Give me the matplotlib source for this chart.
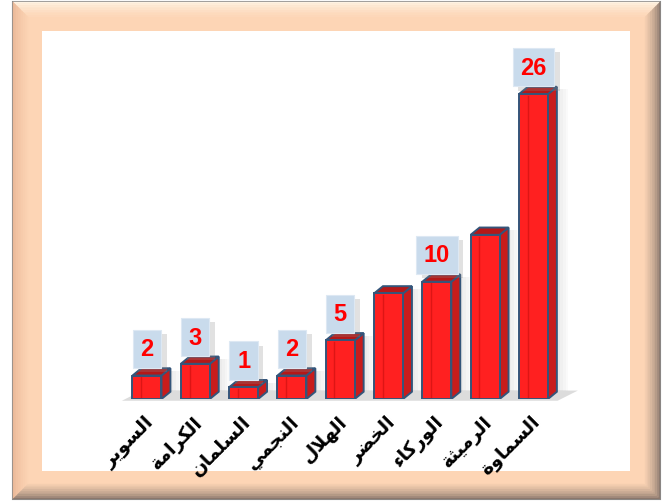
import matplotlib
matplotlib.use('Agg')
import matplotlib.pyplot as plt
import matplotlib.patheffects as pe
from matplotlib.patches import Polygon, Rectangle
from matplotlib.colors import to_rgb


# Data
towns = ['السوير', 'الكرامة', 'السلمان', 'النجمي', 'الهلال',
         'الخضر', 'الوركاء', 'الرميثة', 'السماوة']
counts = [2, 3, 1, 2, 5, 9, 10, 14, 26]
shown = [True, True, True, True, True, False, True, False, True]


# Arabic letters -> presentation forms (matplotlib does no shaping / rtl)
DUAL = {'ب': 0xFE8F, 'ت': 0xFE95, 'ث': 0xFE99, 'ج': 0xFE9D, 'ح': 0xFEA1,
        'خ': 0xFEA5, 'س': 0xFEB1, 'ش': 0xFEB5, 'ص': 0xFEB9, 'ض': 0xFEBD,
        'ط': 0xFEC1, 'ظ': 0xFEC5, 'ع': 0xFEC9, 'غ': 0xFECD, 'ف': 0xFED1,
        'ق': 0xFED5, 'ك': 0xFED9, 'ل': 0xFEDD, 'م': 0xFEE1, 'ن': 0xFEE5,
        'ه': 0xFEE9, 'ي': 0xFEF1}
RIGHT = {'ا': 0xFE8D, 'ة': 0xFE93, 'د': 0xFEA9, 'ذ': 0xFEAB, 'ر': 0xFEAD,
         'ز': 0xFEAF, 'و': 0xFEED, 'ى': 0xFEEF}
ALONE = {'ء': 0xFE80}


def shape(word):
    out = []
    prev_joins = False
    i = 0
    while i < len(word):
        c = word[i]
        if c == 'ل' and i + 1 < len(word) and word[i + 1] == 'ا':
            out.append(chr(0xFEFC if prev_joins else 0xFEFB))
            prev_joins = False
            i += 2
            continue
        nxt = word[i + 1] if i + 1 < len(word) else None
        next_can = nxt is not None and (nxt in DUAL or nxt in RIGHT)
        if c in DUAL:
            b = DUAL[c]
            if prev_joins and next_can:
                f = b + 3
            elif prev_joins:
                f = b + 1
            elif next_can:
                f = b + 2
            else:
                f = b
            prev_joins = next_can
        elif c in RIGHT:
            f = RIGHT[c] + (1 if prev_joins else 0)
            prev_joins = False
        else:
            f = ALONE.get(c, ord(c))
            prev_joins = False
        out.append(chr(f))
        i += 1
    return ''.join(reversed(out))


W, H = 670, 502
fig = plt.figure(figsize=(W / 100, H / 100), dpi=100)
fig.patch.set_facecolor('white')


def fpx(pts):
    return [(x / W, 1 - y / H) for x, y in pts]


def mix(c1, c2, t):
    a, b = to_rgb(c1), to_rgb(c2)
    return tuple(a[k] + (b[k] - a[k]) * t for k in range(3))


# frame (behind the axes)
L, T, R, B = 13, 3, 660, 500
fig.add_artist(Rectangle((L / W, 1 - B / H), (R - L) / W, (B - T) / H,
                         transform=fig.transFigure, fc='#fdd5b5',
                         ec='#8a8a8a', lw=1.5, zorder=-5))
peach = '#fdd5b5'
bw, steps = 17, 10
sides = {'top': '#fff3e3', 'left': '#eab898', 'right': '#8d7b70', 'bottom': '#8a776c'}
for k in range(steps):
    d0 = k * bw / steps
    d1 = (k + 1) * bw / steps
    t = k / (steps - 1)
    quads = {
        'top': [(L + d0, T + d0), (R - d0, T + d0), (R - d1, T + d1), (L + d1, T + d1)],
        'left': [(L + d0, T + d0), (L + d1, T + d1), (L + d1, B - d1), (L + d0, B - d0)],
        'right': [(R - d0, T + d0), (R - d0, B - d0), (R - d1, B - d1), (R - d1, T + d1)],
        'bottom': [(L + d0, B - d0), (R - d0, B - d0), (R - d1, B - d1), (L + d1, B - d1)],
    }
    for side, col in sides.items():
        c = mix(col, peach, t ** 0.7)
        fig.add_artist(Polygon(fpx(quads[side]), closed=True, zorder=-4,
                               transform=fig.transFigure, fc=c, ec=c, lw=0.3))
fig.add_artist(Rectangle((42 / W, 1 - 472 / H), (630 - 42) / W, (472 - 32) / H,
                         transform=fig.transFigure, fc='white', ec='none', zorder=-3))

# plot area
ax = fig.add_axes([0.1545, 0.2032, 0.7282, 0.6892])
ax.set_xlim(-0.9, 9.2)
ax.set_ylim(0, 29.5)
ax.axis('off')

n = len(towns)
w = 0.6
dx, dy = 0.185, 0.62
edge = '#34557a'

# floor
x0 = -w / 2 - 0.22
x1 = n - 1 + w / 2 + 0.2
ax.add_patch(Polygon([(x0, -0.15), (x1, -0.15), (x1 + 0.42, 0.72), (x0 + 0.42, 0.72)],
                     closed=True, fc='#dcdcdc', ec='none', zorder=1, clip_on=False))

for i, v in enumerate(counts):
    # soft shadow on the right
    for s in range(4):
        ax.add_patch(Rectangle((i + w / 2 + dx, 0.7), 0.06 * (s + 1), v - 0.3,
                               fc='#808080', alpha=0.04, ec='none', zorder=1.5))
    ax.bar(i, v, width=w, color='#ff2020', edgecolor=edge, linewidth=1.4, zorder=3)
    ax.plot([i - w / 2 + w * 0.3] * 2, [0.15, v - 0.15], color='#dd1515', lw=1, zorder=3.5)
    side = [(i + w / 2, 0), (i + w / 2 + dx, dy), (i + w / 2 + dx, v + dy), (i + w / 2, v)]
    top = [(i - w / 2, v), (i + w / 2, v), (i + w / 2 + dx, v + dy), (i - w / 2 + dx, v + dy)]
    ax.add_patch(Polygon(side, closed=True, fc='#c81c1c', ec=edge, lw=1.4, zorder=2.8))
    ax.add_patch(Polygon(top, closed=True, fc='#b41818', ec=edge, lw=1.4, zorder=2.8))

    if shown[i]:
        t = ax.annotate(str(v), (i, v), xytext=(0, 11), textcoords='offset points',
                        ha='center', va='bottom', fontsize=17, fontweight='bold',
                        family='Liberation Sans', color='#ff0000', zorder=5,
                        bbox=dict(boxstyle='square,pad=0.32', fc='#c9dbec', ec='#dde8f3', lw=0.8))
        t.get_bbox_patch().set_path_effects([
            pe.SimplePatchShadow(offset=(4, -3), shadow_rgbFace='#888888', alpha=0.25),
            pe.Normal()])

    ax.annotate(shape(towns[i]), (i, 0), xytext=(-2, -9), textcoords='offset points',
                ha='right', va='top', rotation=45, rotation_mode='anchor',
                fontsize=13.5, fontweight='bold', family='DejaVu Sans', color='black',
                annotation_clip=False)

plt.savefig('out.png', dpi=100)
